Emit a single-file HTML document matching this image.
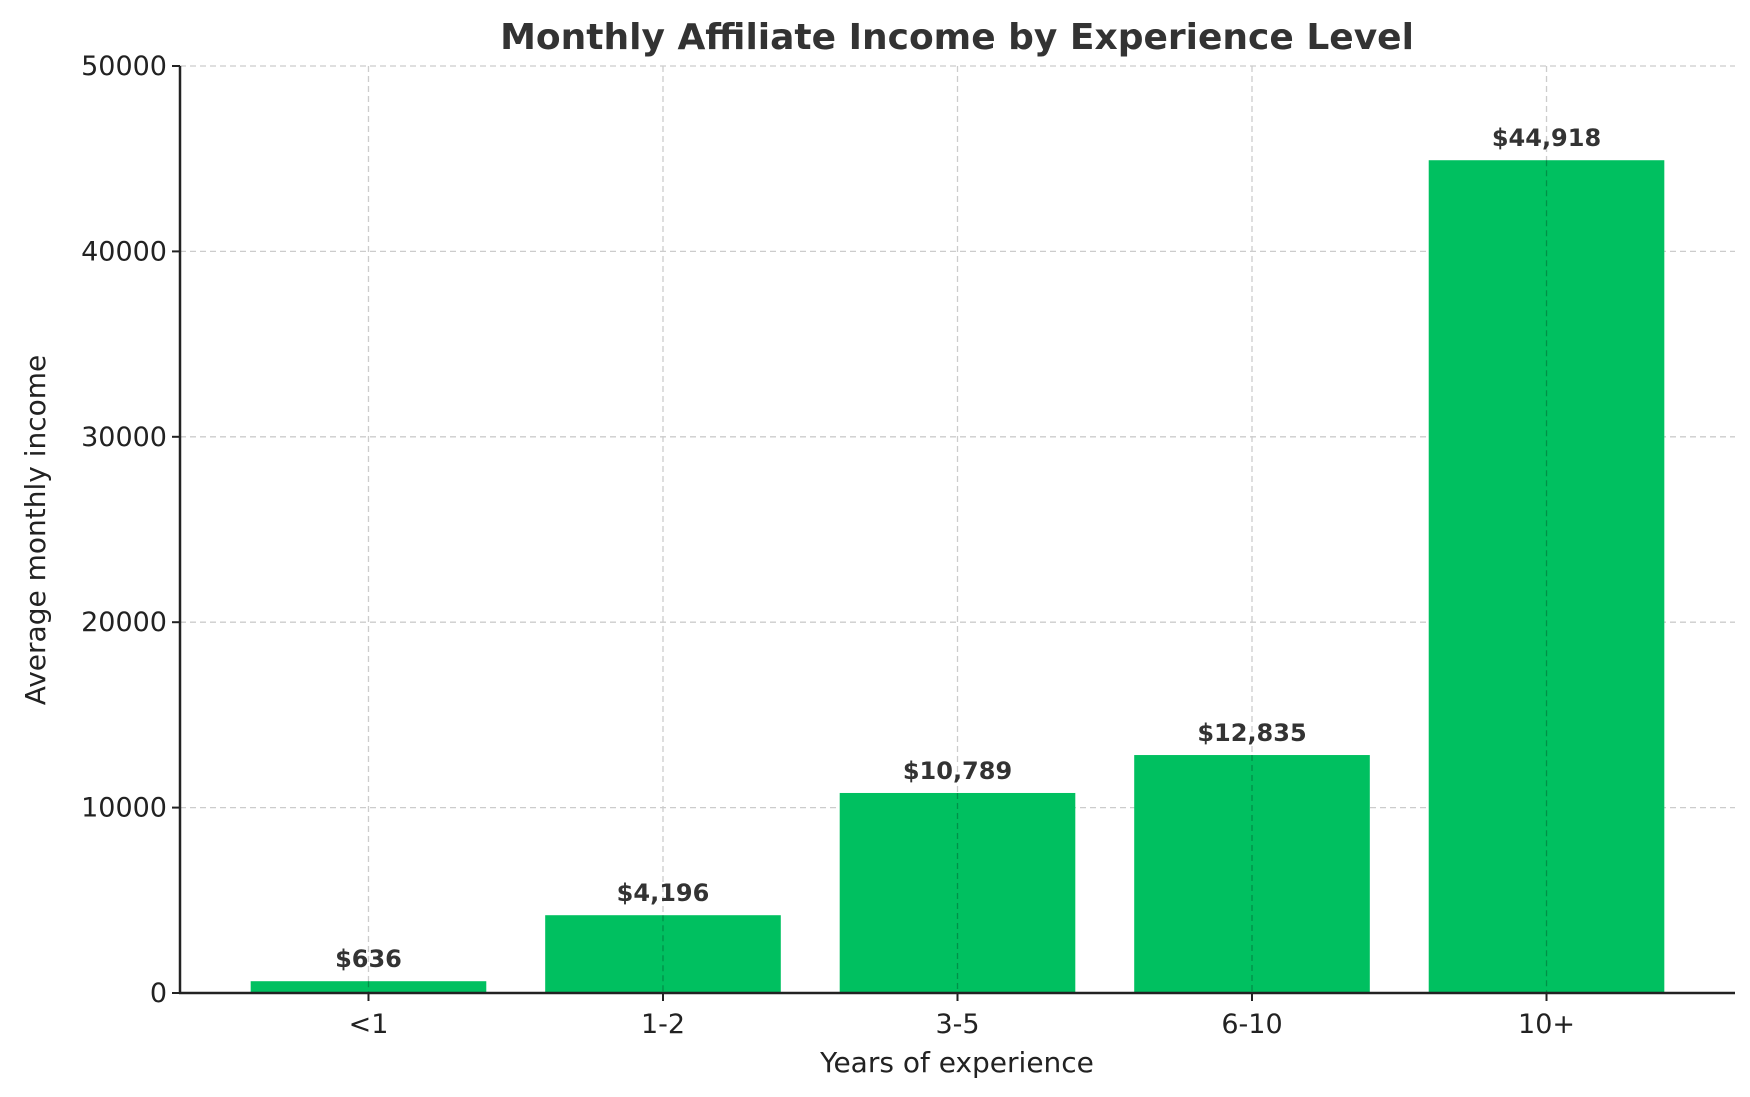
<!DOCTYPE html>
<html><head><meta charset="utf-8"><style>
html,body{margin:0;padding:0;background:#fff}
svg{display:block;font-family:"DejaVu Sans","Liberation Sans",sans-serif}
</style></head><body>
<svg id="chart" width="1750" height="1097" viewBox="0 0 1750 1097" xmlns="http://www.w3.org/2000/svg">
<text x="957" y="49" text-anchor="middle" font-size="36" font-weight="bold" fill="#333">Monthly Affiliate Income by Experience Level</text>
<g id="grid"></g>
<g id="bars"></g>
<g id="axes"></g>
<text x="957" y="1072" text-anchor="middle" font-size="28" fill="#222">Years of experience</text>
<text transform="translate(45,530) rotate(-90)" text-anchor="middle" font-size="28" fill="#222">Average monthly income</text>
</svg>
<script>
const categories = ["<1","1-2","3-5","6-10","10+"];
const values = [636,4196,10789,12835,44918];
const valueLabels = ["$636","$4,196","$10,789","$12,835","$44,918"];
const yTicks = [0,10000,20000,30000,40000,50000];
const L=180,R=1735,T=66,B=993,yMax=50000,xMin=-0.64,xMax=4.64;
const NS="http://www.w3.org/2000/svg";
const xs=i=>L+(i-xMin)/(xMax-xMin)*(R-L);
const ys=v=>B-v/yMax*(B-T);
const bw=0.8*(R-L)/(xMax-xMin);
function mk(t,a,p){const e=document.createElementNS(NS,t);for(const k in a)e.setAttribute(k,a[k]);p.appendChild(e);return e;}
const grid=document.getElementById('grid'),bars=document.getElementById('bars'),axes=document.getElementById('axes');
yTicks.forEach(v=>{
 const l=mk('line',{x1:L,x2:R,y1:ys(v),y2:ys(v),stroke:'#ccc','stroke-width':1.3,'stroke-dasharray':'6,4'},grid);
 
 
 const tk=mk('line',{x1:L-8,x2:L,y1:ys(v),y2:ys(v),stroke:'#222','stroke-width':2},axes);
 
 
 const t=mk('text',{x:L-13,y:ys(v)+9,'text-anchor':'end','font-size':27,fill:'#222'},axes);
 t.textContent=v;
 
 
});
categories.forEach((c,i)=>{
 const g=mk('line',{x1:xs(i),x2:xs(i),y1:T,y2:B,stroke:'#ccc','stroke-width':1.3,'stroke-dasharray':'6,4'},grid);
 
 
 const r=mk('rect',{x:xs(i)-bw/2,y:ys(values[i]),width:bw,height:B-ys(values[i]),fill:'#00c060'},bars);
 
 
 const gl=mk('line',{x1:xs(i),x2:xs(i),y1:ys(values[i]),y2:B,stroke:'#000','stroke-opacity':0.25,'stroke-width':1.3,'stroke-dasharray':'6,4'},bars);
 
 
 const vl=mk('text',{x:xs(i),y:ys(values[i])-14,'text-anchor':'middle','font-size':24,'font-weight':'bold',fill:'#333'},bars);
 vl.textContent=valueLabels[i];
 
 
 const tk=mk('line',{x1:xs(i),x2:xs(i),y1:B,y2:B+8,stroke:'#222','stroke-width':2},axes);
 
 
 const t=mk('text',{x:xs(i),y:B+40,'text-anchor':'middle','font-size':27,fill:'#222'},axes);
 t.textContent=c;
 
 
});
const ya=mk('line',{x1:L,x2:L,y1:T,y2:B+1,stroke:'#222','stroke-width':2.5},axes);


const xa=mk('line',{x1:L-1,x2:R,y1:B,y2:B,stroke:'#222','stroke-width':2.5},axes);


</script>
</body></html>
